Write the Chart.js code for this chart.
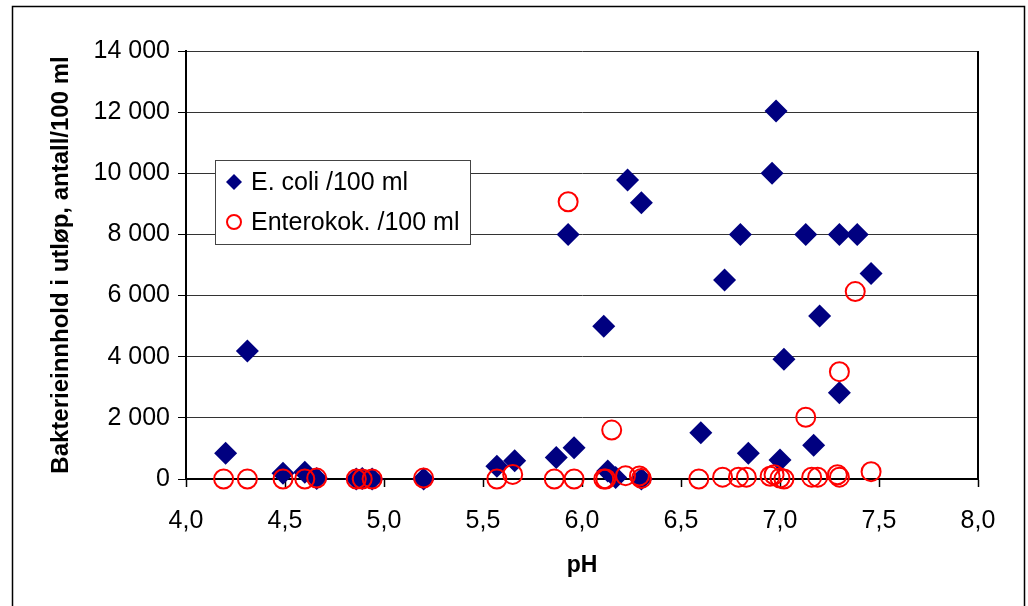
<!DOCTYPE html>
<html>
<head>
<meta charset="utf-8">
<script src="https://cdn.jsdelivr.net/npm/chart.js@4/dist/chart.umd.min.js"></script>
<style>
  html, body { margin: 0; padding: 0; background: #fff; }
  #wrap { width: 1028px; height: 606px; position: relative; }
</style>
</head>
<body>
<div id="wrap"><canvas id="myChart" width="1028" height="606"></canvas></div>
<script>
// Data
const ecoliLabel = 'E. coli /100 ml';
const ecoliPH = [4.20, 4.31, 4.49, 4.60, 4.66, 4.86, 4.89, 4.94, 5.20, 5.57, 5.66, 5.87, 5.93, 5.96, 6.11, 6.13, 6.17, 6.23, 6.30, 6.30,
  6.60, 6.72, 6.80, 6.84, 6.96, 6.98, 7.00, 7.02, 7.13, 7.17, 7.20, 7.30, 7.30, 7.39, 7.46];
const ecoliCount = [840, 4190, 190, 220, 20, 0, 20, 0, 0, 420, 600, 700, 8000, 1020, 5000, 260, 50, 9780, 9040, 0,
  1510, 6510, 8000, 840, 10000, 12040, 620, 3920, 8000, 1100, 5330, 8000, 2820, 8000, 6720];

const enteroLabel = 'Enterokok. /100 ml';
const enteroPH = [4.19, 4.31, 4.49, 4.60, 4.66, 4.86, 4.89, 4.94, 5.20, 5.57, 5.65, 5.86, 5.93, 5.96, 6.11, 6.12, 6.15, 6.22, 6.29, 6.30,
  6.59, 6.71, 6.79, 6.83, 6.95, 6.97, 7.00, 7.02, 7.13, 7.16, 7.19, 7.29, 7.30, 7.30, 7.38, 7.46];
const enteroCount = [0, 0, 0, 0, 30, 0, 0, 0, 30, 0, 150, 0, 9070, 0, 0, 0, 1600, 110, 100, 20,
  0, 60, 60, 60, 90, 140, 30, 0, 2020, 60, 60, 140, 60, 3510, 6130, 240];

const xMin = 4, xMax = 8, xStep = 0.5;
const yMin = 0, yMax = 14000, yStep = 2000;

const FONT = '"Liberation Sans", Arial, sans-serif';

function toPoints(xs, ys) {
  return xs.map((x, i) => ({ x: x, y: ys[i] }));
}

function fmtThousands(v) {
  return String(v).replace(/\B(?=(\d{3})+(?!\d))/g, ' ');
}

// frame round the whole picture + right edge of plot area
const framePlugin = {
  id: 'frame',
  beforeDraw(chart) {
    const ctx = chart.ctx;
    ctx.save();
    ctx.fillStyle = '#fff';
    ctx.fillRect(0, 0, chart.width, chart.height);
    ctx.restore();
  },
  afterDraw(chart) {
    const ctx = chart.ctx;
    const a = chart.chartArea;
    ctx.save();
    ctx.strokeStyle = '#000';
    ctx.lineWidth = 2;
    ctx.beginPath();
    ctx.moveTo(a.right, a.top);
    ctx.lineTo(a.right, a.bottom);
    ctx.stroke();
    ctx.lineWidth = 1.5;
    ctx.strokeRect(12.5, 6.5, 1012, 700);
    ctx.restore();
  }
};

// legend box inside the plot
const boxLegend = {
  id: 'boxLegend',
  afterDraw(chart) {
    const ctx = chart.ctx;
    const bx = 215, by = 160, bw = 255, bh = 84;
    ctx.save();
    ctx.fillStyle = '#fff';
    ctx.fillRect(bx, by, bw, bh);
    ctx.strokeStyle = '#444';
    ctx.lineWidth = 1;
    ctx.strokeRect(bx + 0.5, by + 0.5, bw, bh);

    ctx.font = '25px ' + FONT;
    ctx.textBaseline = 'middle';
    const rows = [by + 22, by + 62];
    // diamond
    const mx = 234;
    ctx.fillStyle = '#000080';
    ctx.beginPath();
    ctx.moveTo(mx, rows[0] - 8);
    ctx.lineTo(mx + 8, rows[0]);
    ctx.lineTo(mx, rows[0] + 8);
    ctx.lineTo(mx - 8, rows[0]);
    ctx.closePath();
    ctx.fill();
    // circle
    ctx.strokeStyle = '#ff0000';
    ctx.lineWidth = 2;
    ctx.beginPath();
    ctx.arc(mx, rows[1], 7, 0, Math.PI * 2);
    ctx.stroke();

    ctx.fillStyle = '#000';
    ctx.fillText(chart.data.datasets[1].label, 251, rows[0] + 1);
    ctx.fillText(chart.data.datasets[0].label, 251, rows[1] + 1);
    ctx.restore();
  }
};

const data = {
  datasets: [
    {
      label: enteroLabel,
      data: toPoints(enteroPH, enteroCount),
      pointStyle: 'circle',
      pointRadius: 9.5,
      pointHoverRadius: 9.5,
      pointBorderWidth: 2,
      pointBorderColor: '#ff0000',
      pointBackgroundColor: 'rgba(0,0,0,0)',
      order: 0
    },
    {
      label: ecoliLabel,
      data: toPoints(ecoliPH, ecoliCount),
      pointStyle: 'rectRot',
      pointRadius: 11.5,
      pointHoverRadius: 11.5,
      pointBorderWidth: 0,
      pointBackgroundColor: '#000080',
      pointBorderColor: '#000080',
      order: 1
    }
  ]
};

const config = {
  type: 'scatter',
  data: data,
  options: {
    responsive: false,
    animation: false,
    clip: false,
    layout: { padding: { left: 0, top: 51, right: 50, bottom: 0 } },
    plugins: {
      legend: { display: false },
      tooltip: { enabled: false }
    },
    scales: {
      x: {
        type: 'linear',
        min: xMin,
        max: xMax,
        afterFit(scale) { scale.height = 127; },
        ticks: {
          stepSize: xStep,
          padding: 19,
          color: '#000',
          font: { family: FONT, size: 25 },
          callback: v => v.toFixed(1).replace('.', ',')
        },
        grid: { drawOnChartArea: false, drawTicks: true, tickLength: 8, color: '#000', tickWidth: 1.5 },
        border: { color: '#000', width: 2 },
        title: {
          display: true,
          text: 'pH',
          color: '#000',
          font: { family: FONT, size: 23, weight: 'bold' },
          padding: { top: 0, bottom: 27 }
        }
      },
      y: {
        min: yMin,
        max: yMax,
        afterFit(scale) { scale.width = 186; },
        ticks: {
          stepSize: yStep,
          padding: 8,
          color: '#000',
          font: { family: FONT, size: 25 },
          callback: v => fmtThousands(v)
        },
        grid: { color: '#333', lineWidth: 1, tickLength: 8, tickColor: '#000' },
        border: { color: '#000', width: 2 },
        title: {
          display: true,
          text: 'Bakterieinnhold i utløp, antall/100 ml',
          color: '#000',
          font: { family: FONT, size: 24, weight: 'bold' },
          padding: { top: 47, bottom: 0 }
        }
      }
    }
  },
  plugins: [framePlugin, boxLegend]
};

const myChart = new Chart(
  document.getElementById('myChart'),
  config
);
</script>
</body>
</html>
